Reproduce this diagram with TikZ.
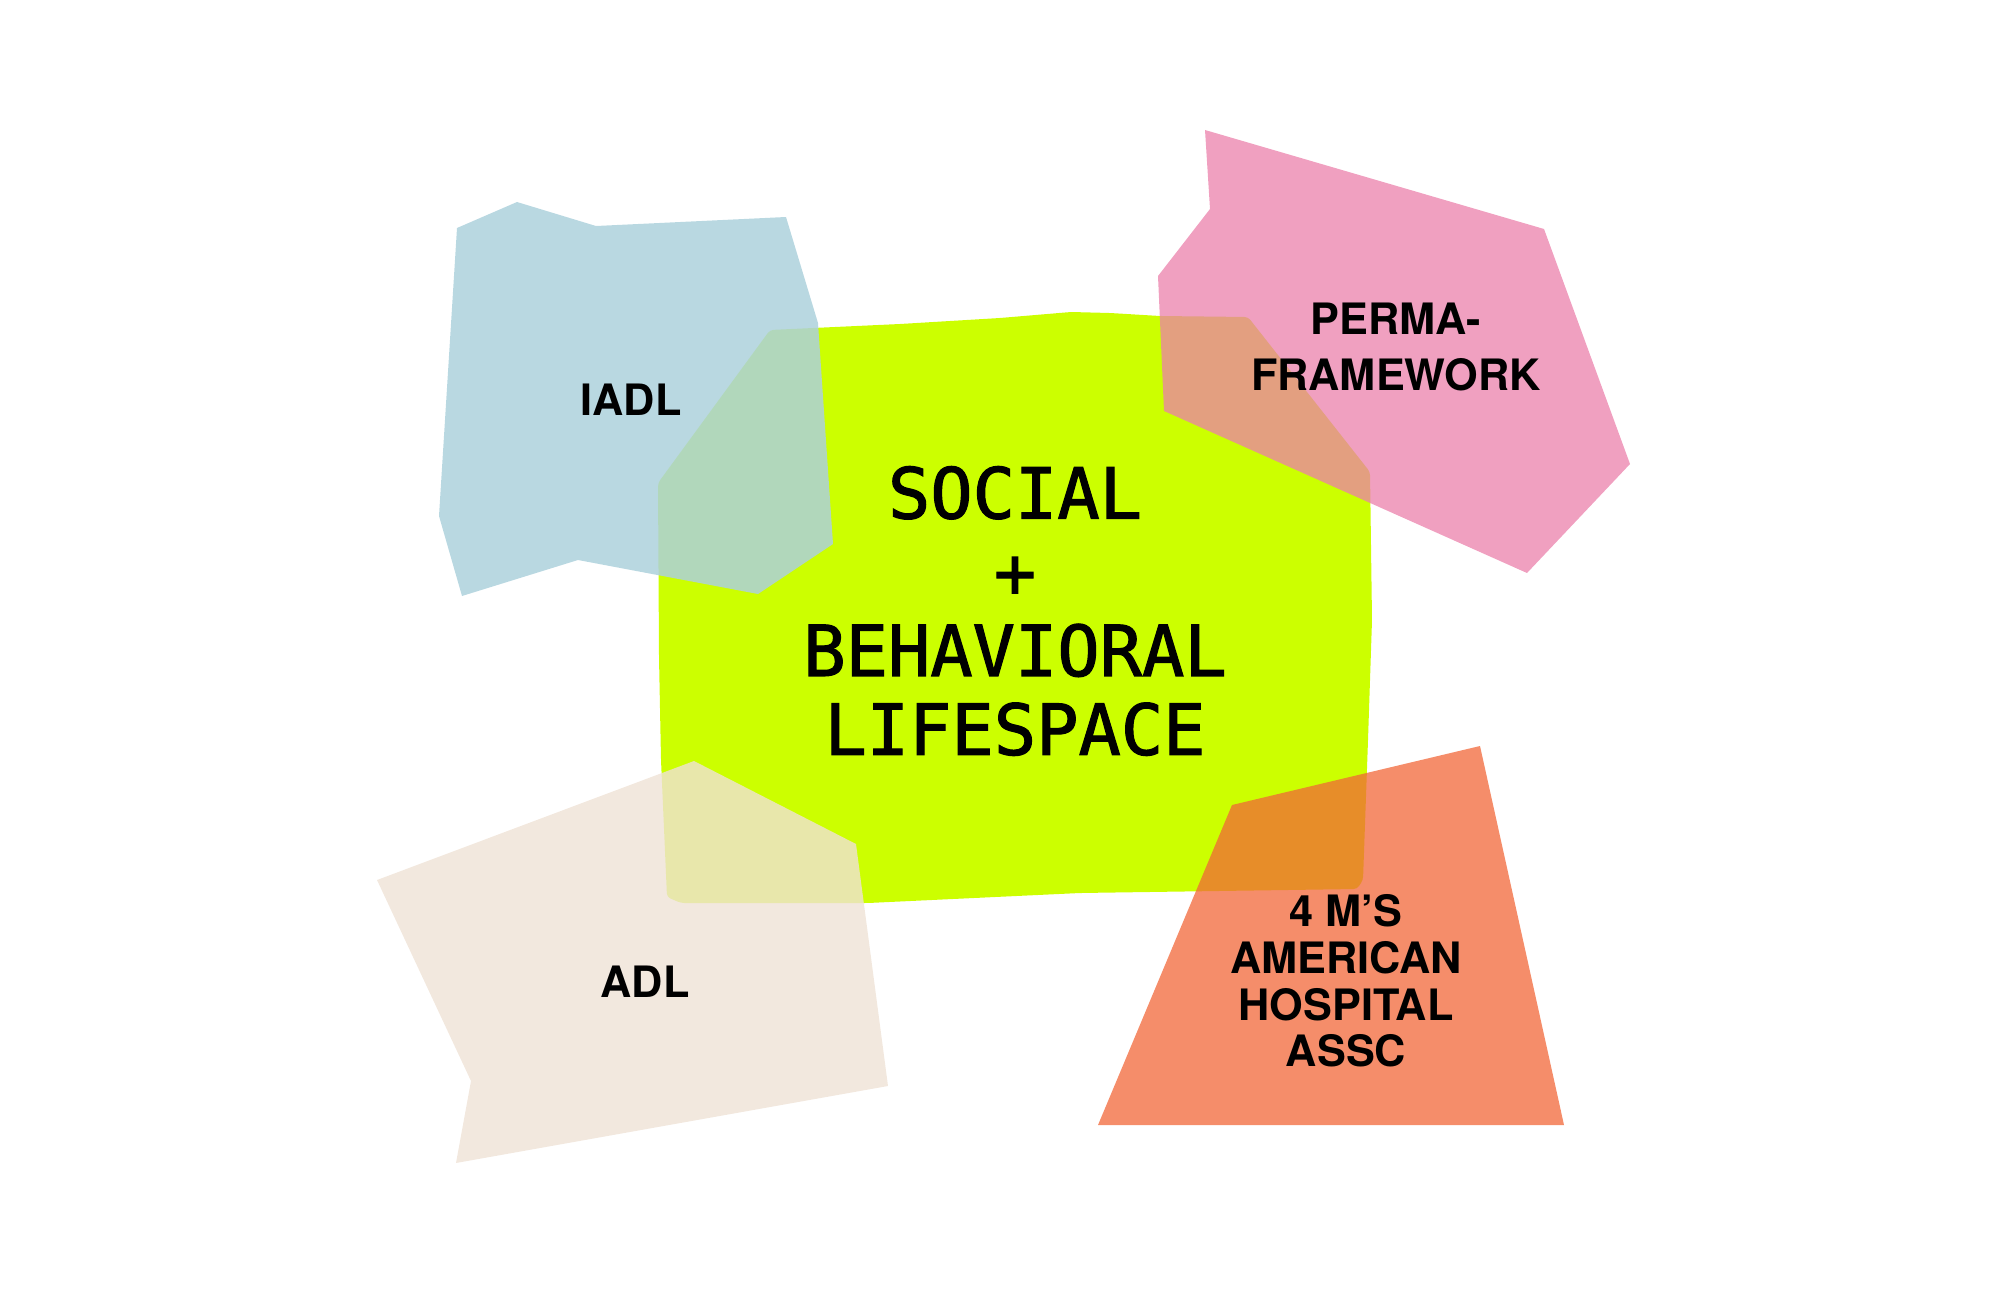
\documentclass[tikz,border=0pt]{standalone}
\usepackage{fontspec}
\setmainfont{TeX Gyre Heros}
\newfontfamily\monofont[FakeBold=1.6]{DejaVu Sans Mono}
\usetikzlibrary{positioning}
\definecolor{lifeGreen}{RGB}{204,255,0}
\definecolor{iadlBlue}{RGB}{173,209,220}
\definecolor{permaPink}{RGB}{235,128,171}
\definecolor{adlSand}{RGB}{239,226,214}
\definecolor{hospOrange}{RGB}{241,103,56}
\tikzset{
  patch/.style={fill=#1, draw=none},
  tag/.style={font=\bfseries\fontsize{12.3}{16.1}\selectfont, align=center, inner sep=0pt},
  core/.style={font=\monofont\fontsize{20}{22.4}\selectfont, align=center, inner sep=0pt},
}

\begin{document}
\begin{tikzpicture}[x=0.01cm, y=-0.01cm]
    \useasboundingbox (0,0) rectangle (2000,1294);

    % central lifespace patch
    \fill[patch=lifeGreen, rounded corners=1pt]
          (770,330) -- (900,324) -- (1000,318) -- (1071,312) -- (1110,313)
          -- (1160,316) -- (1248,317) -- (1370,472) -- (1372,620) -- (1368,740)
          -- (1363,880) -- (1357,889) -- (1080,893) -- (868,903) -- (681,903)
          -- (667,897) -- (661,760) -- (659,657) -- (658,483) -- cycle;

    % IADL
    \fill[patch=iadlBlue, fill opacity=0.85]
          (457,228) -- (517,202) -- (596,226) -- (786,217) -- (818,323)
          -- (833,544) -- (758,594) -- (578,560) -- (462,596) -- (439,516) -- cycle;

    % PERMA
    \fill[patch=permaPink, fill opacity=0.75]
          (1205,130) -- (1544,229) -- (1630,464) -- (1527,573) -- (1164,411)
          -- (1158,276) -- (1210,209) -- cycle;

    % ADL
    \fill[patch=adlSand, fill opacity=0.8]
          (694,761) -- (856,844) -- (888,1086) -- (456,1163) -- (471,1081)
          -- (377,880) -- cycle;

    % 4 M's
    \fill[patch=hospOrange, fill opacity=0.75]
          (1232,805) -- (1480,746) -- (1564,1125) -- (1098,1125) -- cycle;

    % labels
    \node[core] (lifespace) at (1015,611) {SOCIAL\\+\\BEHAVIORAL\\LIFESPACE};
    \node[tag] (iadl) at (631,400) {IADL};
    \node[tag] (adl) at (645,982) {ADL};
    \node[tag] (perma) at (1396,347) {PERMA-\\FRAMEWORK};
    \node[tag, font=\bfseries\fontsize{12.3}{13.3}\selectfont] (fourms) at (1346,981)
          {4 M’S\\AMERICAN\\HOSPITAL\\ASSC};
\end{tikzpicture}
\end{document}
